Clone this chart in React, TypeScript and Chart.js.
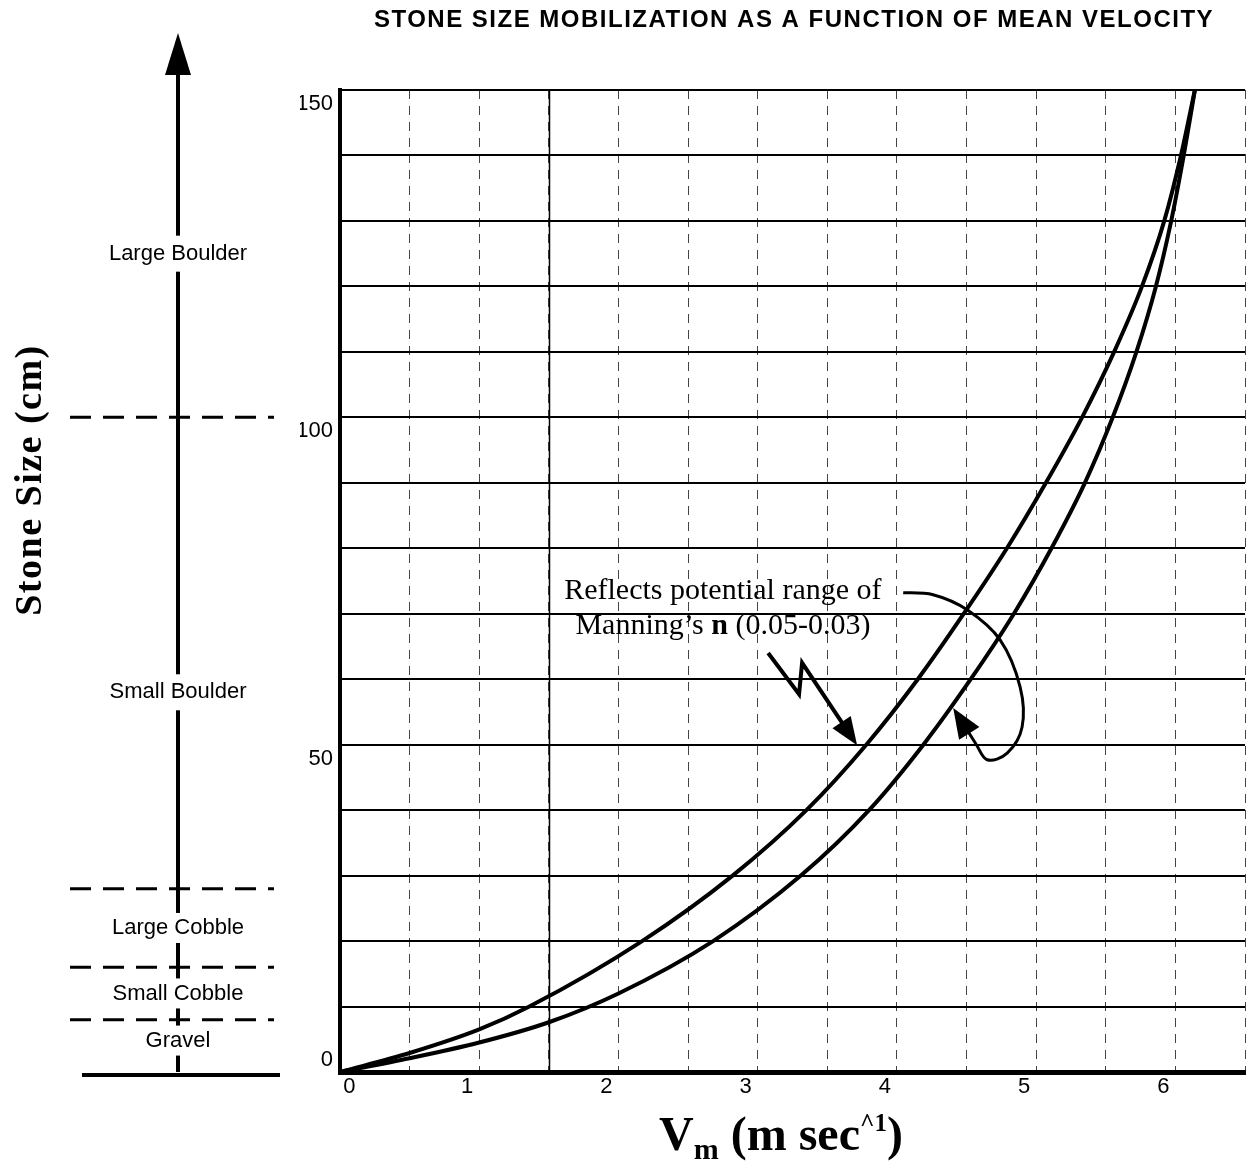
import React, { useEffect, useRef } from 'react';
import { Chart, registerables } from 'chart.js';

Chart.register(...registerables);

// Curve for Manning's n = 0.03 (upper curve)
const upperVelocity = [0, 0.5, 1.0, 1.36, 2.17, 2.82, 3.35, 3.78, 4.15, 4.48, 4.79, 5.07, 5.33, 5.56, 5.76, 5.92, 6.04, 6.14];
const upperSize = [0, 2.9, 6.5, 10, 20, 30, 40, 50, 60, 70, 80, 90, 100, 110, 120, 130, 140, 150];
// Curve for Manning's n = 0.05 (lower curve)
const lowerVelocity = [0, 0.5, 1.0, 1.5, 2.0, 2.68, 3.31, 3.8, 4.19, 4.53, 4.84, 5.11, 5.35, 5.55, 5.72, 5.86, 5.97, 6.06, 6.14];
const lowerSize = [0, 2.1, 4.5, 7.6, 12.0, 20, 30, 40, 50, 60, 70, 80, 90, 100, 110, 120, 130, 140, 150];

// Stone-size classes on the left scale
const classBounds = [100, 28, 16, 8];
const classNames = ['Large Boulder', 'Small Boulder', 'Large Cobble', 'Small Cobble', 'Gravel'];
const classLabelSize = [125, 58, 22, 12, 4.8];

const xTickLabels = ['0', '1', '2', '3', '4', '5', '6'];
const yTickLabels = ['0', '50', '100', '150'];

const titleText = 'STONE SIZE MOBILIZATION AS A FUNCTION OF MEAN VELOCITY';
const yTitleText = 'Stone Size (cm)';
const noteLine1 = 'Reflects potential range of';
const noteLine2a = 'Manning\u2019s ';
const noteLine2b = 'n';
const noteLine2c = ' (0.05-0.03)';

// annotation anchors in data units (velocity, size)
const noteAnchor = [2.75, 72.2, 66.9];
const zigzagArrow = [[3.075, 64.0], [3.297, 57.7], [3.319, 62.5], [3.714, 49.9]];
const loopArrow = [[4.045, 73.2], [4.26, 72.9], [4.504, 70.6], [4.741, 66.0], [4.885, 58.8], [4.899, 52.7], [4.792, 48.7], [4.648, 47.7], [4.562, 50.3], [4.404, 55.6]];

const SANS = '"Liberation Sans", Arial, sans-serif';
const SERIF = '"Liberation Serif", "Times New Roman", serif';

function arrowHead(ctx: CanvasRenderingContext2D, from: number[], tip: number[], len: number, half: number) {
  const dx = tip[0] - from[0];
  const dy = tip[1] - from[1];
  const d = Math.hypot(dx, dy) || 1;
  const ux = dx / d, uy = dy / d;
  const bx = tip[0] - ux * len, by = tip[1] - uy * len;
  ctx.beginPath();
  ctx.moveTo(tip[0], tip[1]);
  ctx.lineTo(bx - uy * half, by + ux * half);
  ctx.lineTo(bx + uy * half, by - ux * half);
  ctx.closePath();
  ctx.fill();
}

function setSpacing(ctx: any, px: number) {
  if ('letterSpacing' in ctx) ctx.letterSpacing = `${px}px`;
}

const decor = {
  id: 'decor',
  beforeDatasetsDraw(chart: any) {
    const { ctx, chartArea, scales } = chart;
    const x = scales.x;
    ctx.save();
    ctx.strokeStyle = '#000';
    ctx.lineWidth = 1.5;
    const px = Math.round(x.getPixelForValue(1.5)) + 0.5;
    ctx.beginPath();
    ctx.moveTo(px, chartArea.top);
    ctx.lineTo(px, chartArea.bottom);
    ctx.stroke();
    ctx.restore();
  },
  afterDraw(chart: any) {
    const { ctx, chartArea, scales } = chart;
    const x = scales.x;
    const y = scales.y;
    const L = chartArea.left;
    ctx.save();
    ctx.fillStyle = '#000';
    ctx.strokeStyle = '#000';

    // Title
    ctx.font = `bold 24px ${SANS}`;
    setSpacing(ctx, 1.5);
    ctx.textAlign = 'center';
    ctx.textBaseline = 'middle';
    ctx.fillText(titleText, 794, 20);

    // Y title (rotated)
    ctx.save();
    ctx.translate(31, 480);
    ctx.rotate(-Math.PI / 2);
    ctx.font = `bold 38px ${SERIF}`;
    setSpacing(ctx, 1.5);
    ctx.textAlign = 'center';
    ctx.textBaseline = 'middle';
    ctx.fillText(yTitleText, 0, 0);
    ctx.restore();
    setSpacing(ctx, 0);

    // X title: V_m (m sec^1)
    {
      const big = `bold 48px ${SERIF}`;
      const sub = `bold 30px ${SERIF}`;
      const sup = `bold 25px ${SERIF}`;
      const parts: [string, string, number][] = [
        ['V', big, 0],
        ['m', sub, 9],
        [' (m sec', big, 0],
        ['^1', sup, -19],
        [')', big, 0],
      ];
      let total = 0;
      const widths = parts.map(([t, f]) => { ctx.font = f; const w = ctx.measureText(t).width; total += w; return w; });
      let cx = 781 - total / 2;
      const base = 1150;
      ctx.textAlign = 'left';
      ctx.textBaseline = 'alphabetic';
      parts.forEach(([t, f, dy], i) => {
        ctx.font = f;
        ctx.fillText(t, cx, base + dy);
        cx += widths[i];
      });
    }

    // Left class scale
    const ax = L - 162;
    const y0 = y.getPixelForValue(0);
    const arrowTip = chartArea.top - 57;
    const arrowBase = chartArea.top - 15;
    ctx.lineWidth = 4;
    ctx.beginPath();
    ctx.moveTo(ax, arrowBase);
    ctx.lineTo(ax, y0);
    ctx.stroke();
    ctx.beginPath();
    ctx.moveTo(ax, arrowTip);
    ctx.lineTo(ax - 13, arrowBase);
    ctx.lineTo(ax + 13, arrowBase);
    ctx.closePath();
    ctx.fill();

    ctx.lineWidth = 3;
    ctx.setLineDash([21, 12]);
    classBounds.forEach((b) => {
      const py = y.getPixelForValue(b);
      ctx.beginPath();
      ctx.moveTo(L - 270, py);
      ctx.lineTo(L - 66, py);
      ctx.stroke();
    });
    ctx.setLineDash([]);
    ctx.lineWidth = 4;
    ctx.beginPath();
    ctx.moveTo(L - 258, y0 + 3);
    ctx.lineTo(L - 60, y0 + 3);
    ctx.stroke();

    ctx.font = `22px ${SANS}`;
    ctx.textAlign = 'center';
    ctx.textBaseline = 'middle';
    classNames.forEach((name, i) => {
      const py = y.getPixelForValue(classLabelSize[i]);
      const w = ctx.measureText(name).width;
      const gap = i < 2 ? 18 : 15;
      ctx.fillStyle = '#fff';
      ctx.fillRect(ax - w / 2 - 4, py - gap, w + 8, gap * 2);
      ctx.fillStyle = '#000';
      ctx.fillText(name, ax, py);
    });

    // Note text
    ctx.font = `30px ${SERIF}`;
    ctx.textAlign = 'center';
    ctx.textBaseline = 'alphabetic';
    const nx = x.getPixelForValue(noteAnchor[0]);
    ctx.fillText(noteLine1, nx, y.getPixelForValue(noteAnchor[1]));
    {
      const fa = `30px ${SERIF}`;
      const fb = `bold 30px ${SERIF}`;
      ctx.font = fa; const wa = ctx.measureText(noteLine2a).width;
      ctx.font = fb; const wb = ctx.measureText(noteLine2b).width;
      ctx.font = fa; const wc = ctx.measureText(noteLine2c).width;
      let sx = nx - (wa + wb + wc) / 2;
      const by = y.getPixelForValue(noteAnchor[2]);
      ctx.textAlign = 'left';
      ctx.font = fa; ctx.fillText(noteLine2a, sx, by); sx += wa;
      ctx.font = fb; ctx.fillText(noteLine2b, sx, by); sx += wb;
      ctx.font = fa; ctx.fillText(noteLine2c, sx, by);
    }

    // Zigzag arrow
    const zz = zigzagArrow.map(([v, s]) => [x.getPixelForValue(v), y.getPixelForValue(s)]);
    ctx.lineWidth = 4;
    ctx.lineJoin = 'miter';
    ctx.beginPath();
    ctx.moveTo(zz[0][0], zz[0][1]);
    for (let i = 1; i < zz.length - 1; i++) ctx.lineTo(zz[i][0], zz[i][1]);
    {
      const a = zz[zz.length - 2], t = zz[zz.length - 1];
      const d = Math.hypot(t[0] - a[0], t[1] - a[1]);
      ctx.lineTo(t[0] - (t[0] - a[0]) / d * 20, t[1] - (t[1] - a[1]) / d * 20);
    }
    ctx.stroke();
    arrowHead(ctx, zz[zz.length - 2], zz[zz.length - 1], 28, 11);

    // Loop arrow
    const lp = loopArrow.map(([v, s]) => [x.getPixelForValue(v), y.getPixelForValue(s)]);
    ctx.lineWidth = 3;
    ctx.beginPath();
    ctx.moveTo(lp[0][0], lp[0][1]);
    for (let i = 0; i < lp.length - 2; i++) {
      const p0 = lp[i - 1] || lp[i];
      const p1 = lp[i];
      const p2 = lp[i + 1];
      const p3 = lp[i + 2] || p2;
      ctx.bezierCurveTo(
        p1[0] + (p2[0] - p0[0]) / 6, p1[1] + (p2[1] - p0[1]) / 6,
        p2[0] - (p3[0] - p1[0]) / 6, p2[1] - (p3[1] - p1[1]) / 6,
        p2[0], p2[1]
      );
    }
    {
      const a = lp[lp.length - 2], t = lp[lp.length - 1];
      const d = Math.hypot(t[0] - a[0], t[1] - a[1]);
      ctx.lineTo(t[0] - (t[0] - a[0]) / d * 20, t[1] - (t[1] - a[1]) / d * 20);
    }
    ctx.stroke();
    arrowHead(ctx, lp[lp.length - 2], lp[lp.length - 1], 30, 12);

    ctx.restore();
  },
};

export default function App() {
  const ref = useRef<HTMLCanvasElement>(null);
  useEffect(() => {
    const canvas = ref.current;
    if (!canvas) return;
    const toPoints = (xs: number[], ys: number[]) => xs.map((v, i) => ({ x: v, y: ys[i] }));
    const chart = new Chart(canvas, {
      type: 'line',
      data: {
        datasets: [
          {
            label: "Manning's n = 0.03",
            data: toPoints(upperVelocity, upperSize),
            borderColor: '#000',
            borderWidth: 4,
            pointRadius: 0,
            fill: false,
            cubicInterpolationMode: 'monotone',
          },
          {
            label: "Manning's n = 0.05",
            data: toPoints(lowerVelocity, lowerSize),
            borderColor: '#000',
            borderWidth: 4,
            pointRadius: 0,
            fill: false,
            cubicInterpolationMode: 'monotone',
          },
        ],
      },
      options: {
        responsive: false,
        animation: false,
        devicePixelRatio: 1,
        layout: { padding: { left: 300, right: 3, top: 90, bottom: 52 } },
        plugins: {
          legend: { display: false },
          tooltip: { enabled: false },
          title: { display: false },
        },
        scales: {
          x: {
            type: 'linear',
            min: 0,
            max: 6.5,
            afterFit: (s: any) => { s.height = 40; },
            border: { display: true, color: '#000', width: 5, dash: [9, 7] },
            grid: { color: '#444', lineWidth: 1, drawTicks: false },
            ticks: {
              stepSize: 0.5,
              autoSkip: false,
              maxRotation: 0,
              padding: 2,
              labelOffset: -12,
              color: '#000',
              font: { family: SANS, size: 22 },
              callback: (v: any) => {
                if (!Number.isInteger(v)) return '';
                const lbl = xTickLabels[v] ?? '';
                return v === 0 ? '       ' + lbl : lbl;
              },
            },
          },
          y: {
            type: 'linear',
            min: 0,
            max: 150,
            afterFit: (s: any) => { s.width = 40; },
            border: { display: true, color: '#000', width: 4 },
            grid: { color: '#000', lineWidth: 2, drawTicks: false },
            ticks: {
              stepSize: 10,
              autoSkip: false,
              padding: 7,
              labelOffset: 14,
              color: '#000',
              font: { family: SANS, size: 22 },
              callback: (v: any) => {
                if (v % 50 !== 0) return '';
                const lbl = yTickLabels[v / 50] ?? '';
                return v === 0 ? [lbl, '', ''] : lbl;
              },
            },
          },
        },
      },
      plugins: [decor],
    } as any);
    return () => chart.destroy();
  }, []);
  return (
    <div style={{ position: 'fixed', left: 0, top: 0, width: 1248, height: 1164, background: '#fff' }}>
      <canvas ref={ref} width={1248} height={1164} style={{ display: 'block', width: 1248, height: 1164 }} />
    </div>
  );
}
